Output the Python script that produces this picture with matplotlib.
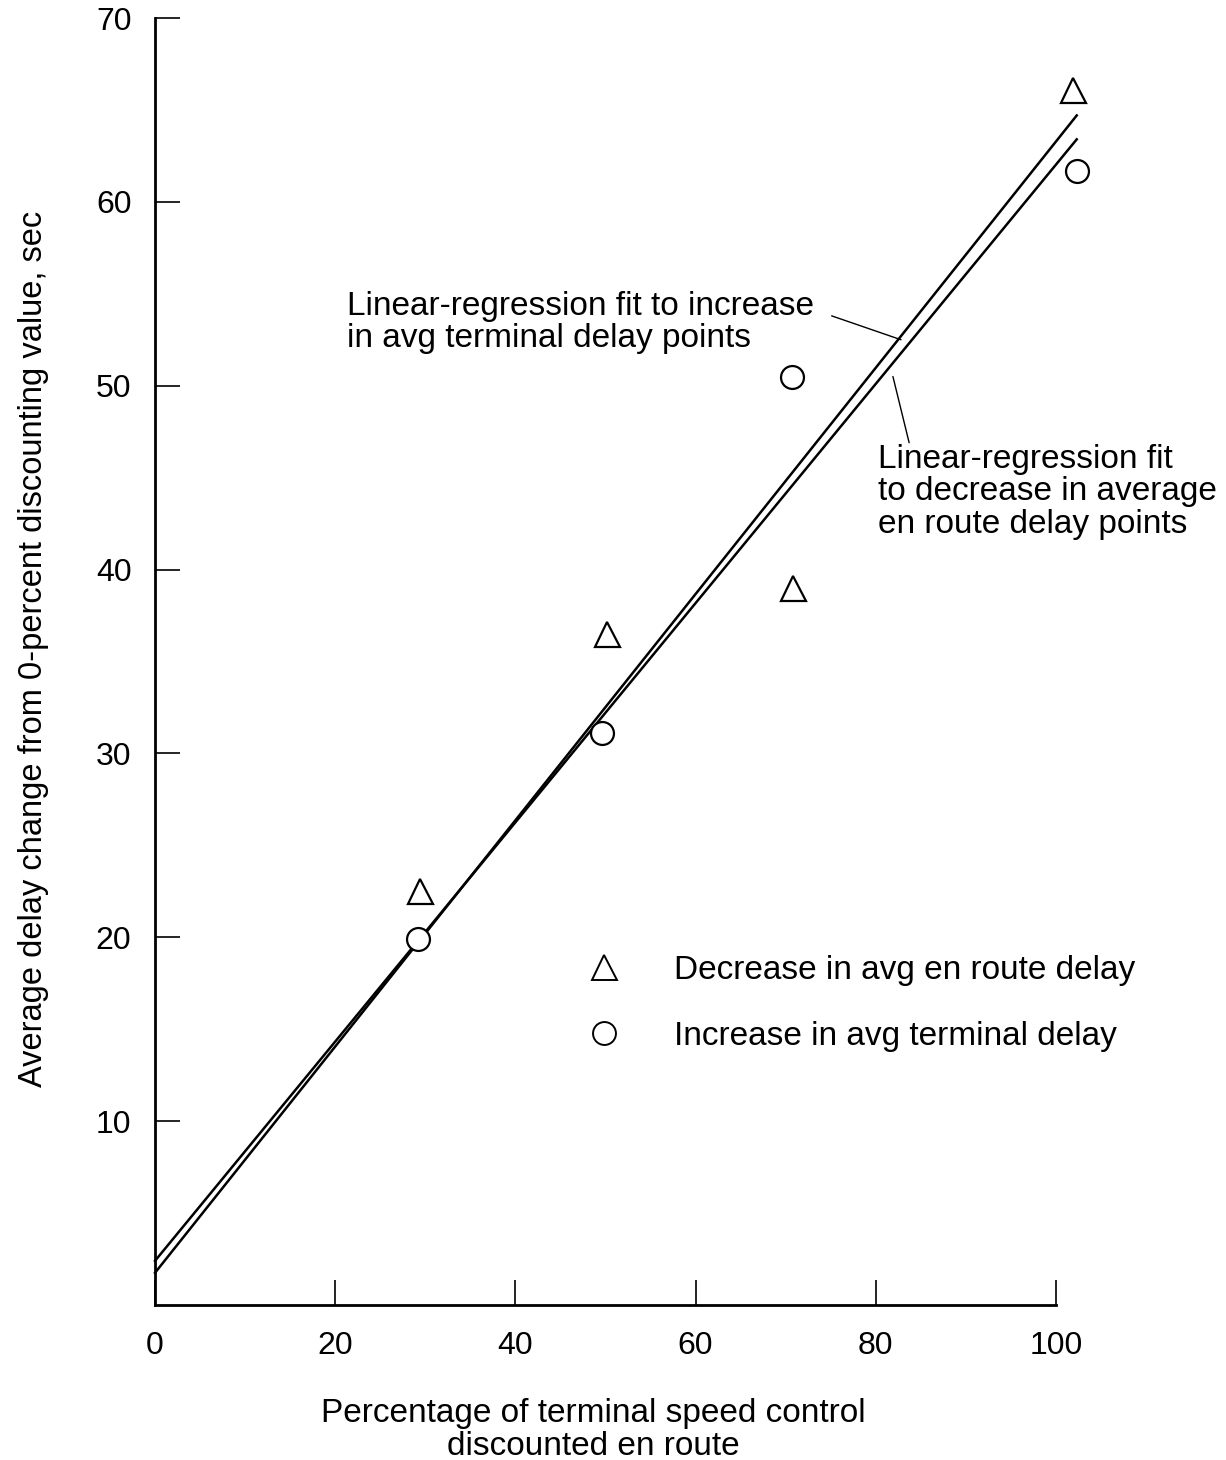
import numpy as np
import matplotlib
matplotlib.use("Agg")
import matplotlib.pyplot as plt
from matplotlib.lines import Line2D

plt.rcParams['font.family'] = ['Liberation Sans', 'DejaVu Sans']

# percentage of terminal speed control discounted en route
pct_enroute = [29.4, 50.2, 70.8, 101.9]
dec_enroute = [22.5, 36.5, 39.0, 66.1]      # decrease in avg en route delay, sec
pct_terminal = [29.2, 49.6, 70.7, 102.3]
inc_terminal = [19.9, 31.1, 50.5, 61.7]     # increase in avg terminal delay, sec

# regression lines, endpoints at x = 0 and x = 102.3
fit_x = [0.0, 102.3]
fit_inc = [1.75, 64.7]
fit_dec = [2.4, 63.4]

xticks = [0, 20, 40, 60, 80, 100]
yticks = [10, 20, 30, 40, 50, 60, 70]

fig = plt.figure(figsize=(12.26, 14.6), dpi=100)
ax = fig.add_axes([155/1226, 1 - 1305/1460, 901/1226, (1305 - 18)/1460])

ax.plot(fit_x, fit_inc, color='black', lw=1.8, clip_on=False)
ax.plot(fit_x, fit_dec, color='black', lw=1.8, clip_on=False)

ax.plot(pct_enroute, dec_enroute, ls='none', marker='^', ms=18, mfc='white',
        mec='black', mew=1.6, clip_on=False, zorder=3)
ax.plot(pct_terminal, inc_terminal, ls='none', marker='o', ms=16.5, mfc='white',
        mec='black', mew=1.6, clip_on=False, zorder=3)

ax.set_xlim(0, 100)
ax.set_ylim(0, 70)
ax.set_xticks(xticks)
ax.set_yticks(yticks)
ax.tick_params(direction='in', length=18, width=1.2, labelsize=23)
ax.tick_params(axis='x', pad=19)
ax.tick_params(axis='y', pad=17)
for s in ['top', 'right']:
    ax.spines[s].set_visible(False)
for s in ['left', 'bottom']:
    ax.spines[s].set_linewidth(2)

ax.set_xlabel('Percentage of terminal speed control\ndiscounted en route',
              fontsize=24, linespacing=1.05)
ax.xaxis.set_label_coords(0.486, -0.0725)
ax.set_ylabel('Average delay change from 0-percent discounting value, sec',
              fontsize=23.5)
ax.yaxis.set_label_coords(-0.118, 0.51)

# fit labels and their leader lines
ax.text(21.3, 53.44, 'Linear-regression fit to increase\nin avg terminal delay points',
        fontsize=24, linespacing=1.08, va='center', ha='left')
ax.annotate('', xy=(82.8, 52.5), xytext=(75.1, 53.8),
            arrowprops=dict(arrowstyle='-', color='black', lw=1.0,
                            shrinkA=0, shrinkB=0))
ax.text(80.24, 44.22, 'Linear-regression fit\nto decrease in average\nen route delay points',
        fontsize=24, linespacing=1.08, va='center', ha='left')
ax.annotate('', xy=(81.9, 50.5), xytext=(83.7, 46.9),
            arrowprops=dict(arrowstyle='-', color='black', lw=1.0,
                            shrinkA=0, shrinkB=0))

handles = [
    Line2D([], [], ls='none', marker='^', ms=18, mfc='white', mec='black', mew=1.4),
    Line2D([], [], ls='none', marker='o', ms=16.5, mfc='white', mec='black', mew=1.4),
]
ax.legend(handles, ['Decrease in avg en route delay', 'Increase in avg terminal delay'],
          loc='center left', bbox_to_anchor=(0.446, 0.2343), frameon=False,
          fontsize=24, handlelength=1.0, handletextpad=1.6, labelspacing=1.05,
          numpoints=1)

fig.savefig('out.png', dpi=100)
